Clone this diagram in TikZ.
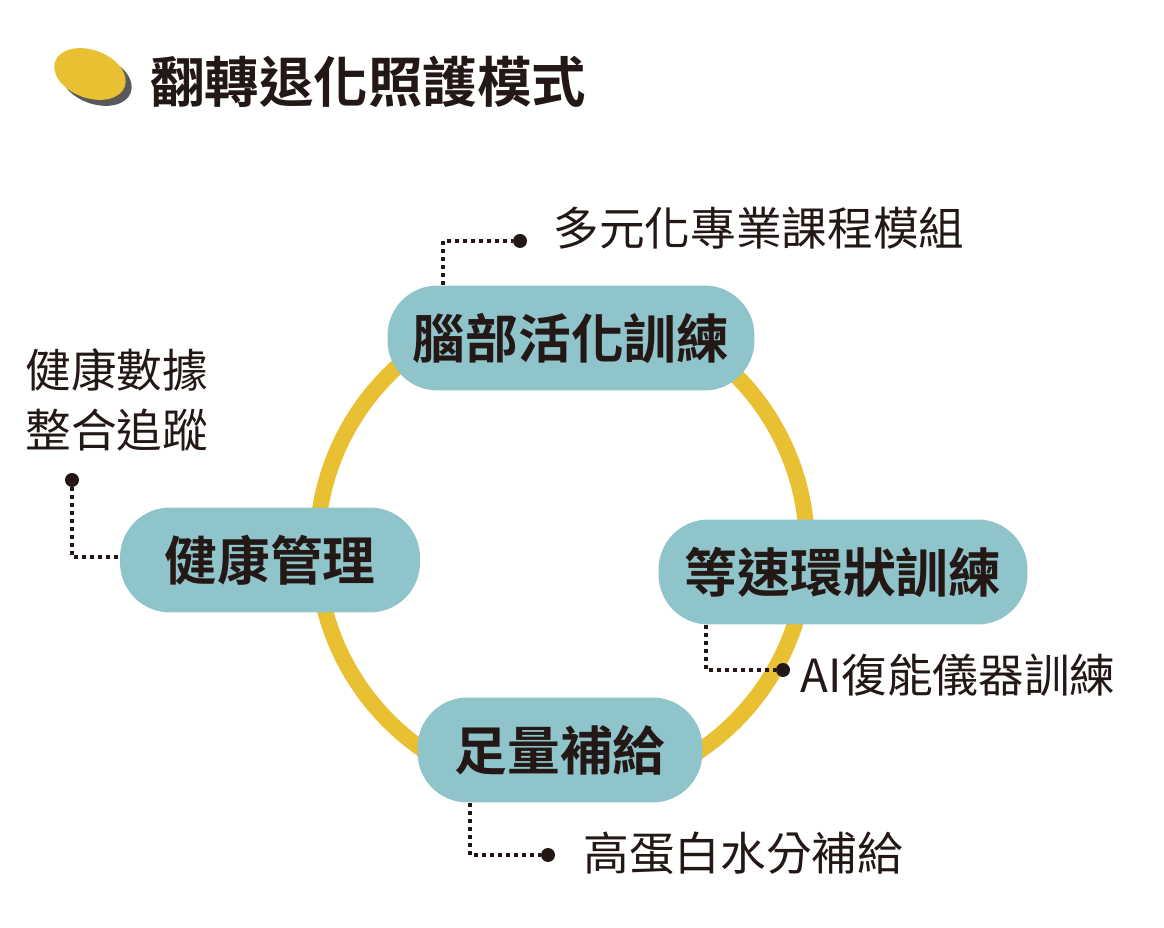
\documentclass[tikz,border=0pt]{standalone}
\usepackage{fontspec}
\setmainfont{Noto Sans CJK TC}[BoldFont={Noto Sans CJK TC Bold}]
\definecolor{ringyellow}{HTML}{E8C032}
\definecolor{boxteal}{HTML}{8FC4CA}
\definecolor{inkdark}{HTML}{231815}
\tikzset{
  mainbox/.style={fill=boxteal, rounded corners=1cm, minimum height=2.1cm, inner sep=0pt, font=\fontsize{30}{34}\selectfont\bfseries, text=inkdark},
  leader/.style={draw=inkdark, line width=0.08cm, dash pattern=on 0.08cm off 0.08cm},
  enddot/.style={circle, fill=inkdark, inner sep=0pt, minimum size=0.28cm},
  sidetext/.style={font=\fontsize{26}{34}\selectfont, text=inkdark, inner sep=0pt}
}
\begin{document}
\begin{tikzpicture}[x=0.02cm,y=-0.02cm]
    \useasboundingbox[fill=white] (0,0) rectangle (1164,928);
    % title
    \fill[gray!70!black, rotate around={-20:(96,80)}] (96,80) ellipse (37 and 24);
    \fill[ringyellow, rotate around={-20:(90,74)}] (90,74) ellipse (37 and 24);
    \node[font=\fontsize{31}{34}\selectfont\bfseries, text=inkdark, anchor=west, inner sep=0pt] (title) at (150,82) {翻轉退化照護模式};

    % ring
    \draw[ringyellow, line width=0.32cm] (562,548) circle (245);

    % main boxes
    \node[mainbox, minimum width=7.34cm] (brain) at (571,338) {腦部活化訓練};
    \node[mainbox, minimum width=7.38cm] (ring) at (843,572) {等速環狀訓練};
    \node[mainbox, minimum width=6cm] (health) at (270,560) {健康管理};
    \node[mainbox, minimum width=5.7cm] (food) at (560,750) {足量補給};

    % side dots
    \node[enddot] (d1) at (520,241) {};
    \node[enddot] (d2) at (72,480) {};
    \node[enddot] (d3) at (783,670) {};
    \node[enddot] (d4) at (548,855) {};

    % leaders
    \draw[leader] (brain.north west -| 443,0) -- (443,241) -- (d1);
    \draw[leader] (d2) -- (72,557) -- (health.west |- 0,557);
    \draw[leader] (ring.south west -| 706,0) -- (706,670) -- (d3);
    \draw[leader] (food.south west -| 470,0) -- (470,855) -- (d4);

    % side labels
    \node[sidetext, anchor=west] (t1) at (553,228) {多元化專業課程模組};
    \node[sidetext, anchor=west, align=left] (t2) at (25,400) {健康數據\\整合追蹤};
    \node[sidetext, anchor=west] (t3) at (800,675) {AI復能儀器訓練};
    \node[sidetext, anchor=west] (t4) at (583,853) {高蛋白水分補給};
\end{tikzpicture}
\end{document}
